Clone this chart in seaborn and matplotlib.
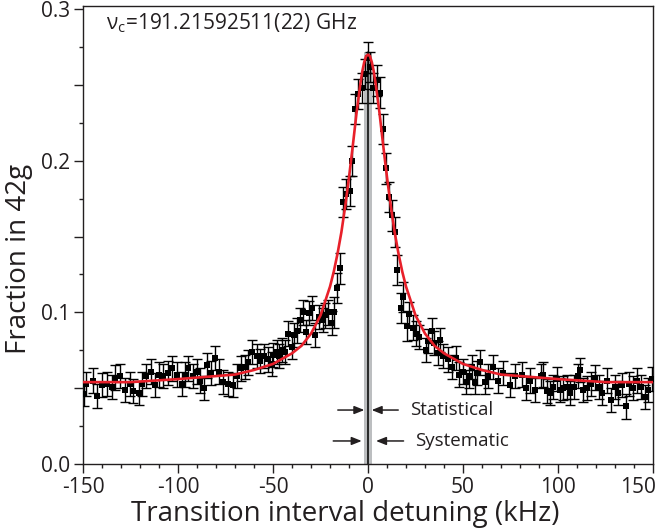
import numpy as np
import pandas as pd
import matplotlib
matplotlib.use("Agg")
import matplotlib.pyplot as plt
import matplotlib.transforms as mtransforms
import seaborn as sns

# measured points, left wing
left_x = [-149.5, -148.5, -144.6, -142.8, -140.2, -137.5, -134.9, -133.2, -130.5, -127.9,
          -125.3, -123.5, -120.5, -119.1, -116.8, -114.4, -112.1, -109.8, -107.7, -105.1,
          -103.3, -100.7, -98.1, -96.3, -94.6, -92.3, -90.2, -88.4, -86.3, -84.9,
          -82.8, -80.5, -78.3, -76.2, -73.5, -71.2, -69.1, -67.0, -64.7, -63.0,
          -61.2, -58.6, -56.8, -54.7, -52.5, -50.7, -49.8, -48.0, -46.8, -45.4,
          -43.7, -41.9, -40.2, -39.0, -37.5, -35.8, -34.0, -32.6, -30.9, -29.6,
          -27.9, -25.6, -23.5, -22.6, -20.9, -19.1]
left_y = [0.046, 0.053, 0.055, 0.045, 0.052, 0.053, 0.051, 0.057, 0.058, 0.049,
          0.053, 0.048, 0.047, 0.053, 0.058, 0.061, 0.052, 0.059, 0.058, 0.060,
          0.063, 0.059, 0.053, 0.059, 0.063, 0.058, 0.061, 0.055, 0.050, 0.065,
          0.060, 0.070, 0.061, 0.054, 0.053, 0.052, 0.058, 0.063, 0.064, 0.067,
          0.074, 0.071, 0.068, 0.071, 0.069, 0.066, 0.072, 0.074, 0.071, 0.075,
          0.074, 0.086, 0.077, 0.085, 0.088, 0.095, 0.100, 0.087, 0.0995, 0.103,
          0.085, 0.097, 0.095, 0.098, 0.100, 0.093]
left_err = 0.008

# measured points, line centre
core_x = [-17.9, -16.2, -14.6, -13.1, -11.7, -9.5, -8.2, -6.8, -5.1, -3.3,
          -1.5, 0.2, 1.2, 2.8, 4.6, 6.1, 8.1, 9.3, 10.9, 12.5,
          14.3, 15.4, 17.4, 18.6, 20.3]
core_y = [0.100, 0.116, 0.129, 0.173, 0.178, 0.180, 0.200, 0.234, 0.244, 0.248,
          0.257, 0.268, 0.262, 0.248, 0.253, 0.245, 0.221, 0.195, 0.176, 0.164,
          0.153, 0.128, 0.103, 0.110, 0.091]
core_err = 0.010

# measured points, right wing
right_x = [21.7, 23.5, 25.3, 27.0, 30.4, 31.7, 33.5, 34.7, 37.0, 37.9,
           39.6, 41.9, 44.0, 46.3, 47.7, 49.8, 51.4, 53.0, 54.6, 56.3,
           57.5, 58.9, 61.6, 63.3, 65.6, 68.6, 71.2, 74.7, 77.4, 80.9,
           83.2, 85.3, 87.9, 90.9, 92.3, 94.1, 95.8, 97.2, 99.3, 101.0,
           102.8, 104.6, 106.3, 108.4, 110.7, 111.6, 113.3, 115.4, 117.2, 119.5,
           121.7, 123.0, 125.6, 127.7, 130.0, 131.7, 133.5, 135.8, 137.5, 139.6,
           141.4, 143.5, 145.8, 147.5, 149.3]
right_y = [0.099, 0.090, 0.086, 0.084, 0.075, 0.081, 0.088, 0.080, 0.073, 0.082,
           0.071, 0.069, 0.064, 0.070, 0.059, 0.061, 0.054, 0.058, 0.064, 0.054,
           0.060, 0.067, 0.054, 0.058, 0.064, 0.055, 0.060, 0.052, 0.058, 0.059,
           0.050, 0.055, 0.049, 0.058, 0.059, 0.048, 0.047, 0.051, 0.056, 0.049,
           0.050, 0.051, 0.047, 0.051, 0.058, 0.062, 0.049, 0.050, 0.053, 0.057,
           0.051, 0.047, 0.055, 0.042, 0.051, 0.047, 0.052, 0.038, 0.053, 0.050,
           0.055, 0.051, 0.044, 0.049, 0.056]
right_err = 0.008

# fitted line shape
fit_x = [-150, -125, -100, -80, -70, -60, -50, -40, -35, -30, -25, -20, -18, -16, -14,
         -12, -10, -8, -6, -4, -3, -2, -1, 0, 1, 2, 3, 4, 6, 8, 10, 12, 14, 16, 18,
         20, 25, 30, 35, 40, 50, 60, 70, 80, 100, 125, 150]
fit_y = [0.054, 0.054, 0.056, 0.058, 0.059, 0.062, 0.066, 0.073, 0.078, 0.086, 0.098,
         0.117, 0.127, 0.139, 0.153, 0.170, 0.189, 0.210, 0.232, 0.251, 0.259, 0.265,
         0.269, 0.270, 0.269, 0.265, 0.259, 0.251, 0.232, 0.210, 0.189, 0.170, 0.153,
         0.139, 0.127, 0.117, 0.098, 0.086, 0.078, 0.073, 0.066, 0.062, 0.059, 0.058,
         0.056, 0.054, 0.054]

# uncertainty band and arrows
center_x = 0.0
band_x = [-2.2, 2.2]
band_top = 0.272
stat_tips = (-1.9, 1.9)
sys_tips = (-3.3, 4.2)
stat_y = 0.0356
sys_y = 0.0152

x_ticks = [-150, -100, -50, 0, 50, 100, 150]
y_ticks = [0.0, 0.05, 0.1, 0.15, 0.2, 0.25, 0.3]
y_ticklabels = ["0.0", "", "0.1", "", "0.2", "", "0.3"]

dark = "#231f20"
red = "#e8202a"

sns.set_theme(style="ticks")
plt.rcParams["font.family"] = ["Open Sans", "DejaVu Sans"]
plt.rcParams["mathtext.fontset"] = "custom"
plt.rcParams["mathtext.rm"] = "Open Sans"

pts = pd.DataFrame({
    "x": left_x + core_x + right_x,
    "y": left_y + core_y + right_y,
    "err": [left_err] * len(left_x) + [core_err] * len(core_x) + [right_err] * len(right_x),
})

fig = plt.figure(figsize=(6.56, 5.30), dpi=100)
ax = fig.add_axes([0.1265, 0.1245, 0.869, 0.864])

ax.fill_between(band_x, 0, band_top, color="#bcbec0", lw=0, zorder=1)
ax.plot([center_x, center_x], [0, band_top], color="black", lw=1.1, zorder=2)

ax.errorbar(pts["x"], pts["y"], yerr=pts["err"], fmt="none", ecolor="black",
            elinewidth=1.0, capsize=3.5, capthick=1.0, zorder=3)
sns.scatterplot(data=pts, x="x", y="y", marker="s", s=16, color="black",
                linewidth=0, ax=ax, zorder=3)
sns.lineplot(x=fit_x, y=fit_y, color=red, lw=1.9, ax=ax, zorder=4)

arrow = dict(arrowstyle="-|>,head_length=0.5,head_width=0.2", color=dark, lw=1.1,
             shrinkA=0, shrinkB=0)
ax.annotate("", xy=(stat_tips[0], stat_y), xytext=(stat_tips[0] - 14, stat_y), arrowprops=arrow)
ax.annotate("", xy=(stat_tips[1], stat_y), xytext=(stat_tips[1] + 14, stat_y), arrowprops=arrow)
ax.annotate("", xy=(sys_tips[0], sys_y), xytext=(sys_tips[0] - 15, sys_y), arrowprops=arrow)
ax.annotate("", xy=(sys_tips[1], sys_y), xytext=(sys_tips[1] + 14.5, sys_y), arrowprops=arrow)
ax.text(22, stat_y, "Statistical", fontsize=13.5, color=dark, va="center", ha="left")
ax.text(24.7, sys_y, "Systematic", fontsize=13.5, color=dark, va="center", ha="left")

ax.text(0.04, 0.962, "ν$_\\mathregular{c}$=191.21592511(22) GHz", transform=ax.transAxes,
        fontsize=15, color=dark, va="center", ha="left")

ax.set_xlim(-150, 150)
ax.set_ylim(0, 0.302)
ax.set_xticks(x_ticks)
ax.set_xticklabels([str(t) for t in x_ticks])
ax.set_xticks(np.arange(-150, 151, 10), minor=True)
ax.set_yticks(y_ticks)
ax.set_yticklabels(y_ticklabels)
ax.set_yticks(np.arange(0, 0.301, 0.025), minor=True)
ax.tick_params(which="major", direction="out", length=6.5, width=1, color=dark,
               labelsize=15, labelcolor=dark, pad=3)
ax.tick_params(which="minor", direction="out", length=3, width=1, color=dark)
for s in ax.spines.values():
    s.set_color(dark)
    s.set_linewidth(1.0)

# last x label sits flush with the right edge
last = ax.get_xticklabels()[-1]
last.set_horizontalalignment("right")
last.set_transform(last.get_transform() + mtransforms.ScaledTranslation(3 / 100, 0, fig.dpi_scale_trans))

ax.set_xlabel("Transition interval detuning (kHz)", fontsize=20, color=dark)
ax.xaxis.set_label_coords(0.46, -0.078)
ax.set_ylabel("Fraction in 42g", fontsize=20, color=dark)
ax.yaxis.set_label_coords(-0.087, 0.448)

fig.savefig("out.png", dpi=100)
